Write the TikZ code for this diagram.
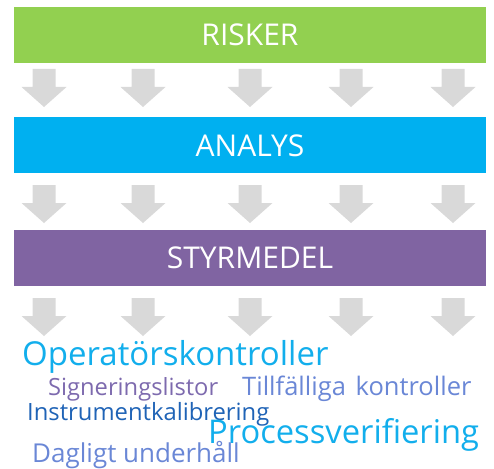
\documentclass[tikz,border=0pt]{standalone}
\usepackage{fontspec}
\setmainfont{Open Sans}
\usetikzlibrary{positioning}
\definecolor{riskgreen}{HTML}{92D050}
\definecolor{analysblue}{HTML}{00B0F0}
\definecolor{styrpurple}{HTML}{8064A2}
\definecolor{arrowgray}{HTML}{D9D9D9}
\definecolor{wordcyan}{HTML}{12AEEC}
\definecolor{wordmauve}{HTML}{7D6AAE}
\definecolor{wordcorn}{HTML}{6A87D6}
\definecolor{worddark}{HTML}{1F63B6}
\tikzstyle{bar} = [rectangle, minimum width=472pt, minimum height=56pt, inner sep=0pt, text=white, font=\fontsize{30}{30}\selectfont]
\tikzstyle{word} = [anchor=base west, inner sep=0pt]
\tikzstyle{downarrow} = [fill=arrowgray, draw=none]

\begin{document}
\begin{tikzpicture}[x=1pt, y=-1pt]
			\useasboundingbox (0,0) rectangle (494,468);
			\node (risker) [bar, fill=riskgreen] at (250,35) {RISKER};
			\node (analys) [bar, fill=analysblue, below=54pt of risker] {ANALYS};
			\node (styrmedel) [bar, fill=styrpurple, below=56pt of analys] {STYRMEDEL};
			
			% grey arrows under each bar
			\foreach \top/\neck in {69/87, 185/203, 298/316} {
				\foreach \cx in {44, 143, 250, 351, 453} {
					\fill [downarrow] (\cx-11.5,\top) -- (\cx+11.5,\top) -- (\cx+11.5,\neck) -- (\cx+22.5,\neck)
						-- (\cx,\top+38) -- (\cx-22.5,\neck) -- (\cx-11.5,\neck) -- cycle;
				}
			}
			
			\node (operator) [word, text=wordcyan, font=\fontsize{33}{33}\selectfont] at (22,365) {Operatörskontroller};
			\node (signering) [word, text=wordmauve, font=\fontsize{23.7}{24}\selectfont] at (48,395) {Signeringslistor};
			\node (tillfallig) [word, text=wordcorn, font=\fontsize{25.5}{26}\selectfont] at (242,395) {Tillfälliga\hspace{3pt} kontroller};
			\node (instrument) [word, text=worddark, font=\fontsize{23.8}{24}\selectfont] at (27,420) {Instrumentkalibrering};
			\node (process) [word, text=wordcyan, font=\fontsize{32.7}{33}\selectfont] at (208,443) {Processverifiering};
			\node (underhall) [word, text=wordcorn, font=\fontsize{26}{26}\selectfont] at (32,462) {Dagligt underhåll};
		\end{tikzpicture}
\end{document}
